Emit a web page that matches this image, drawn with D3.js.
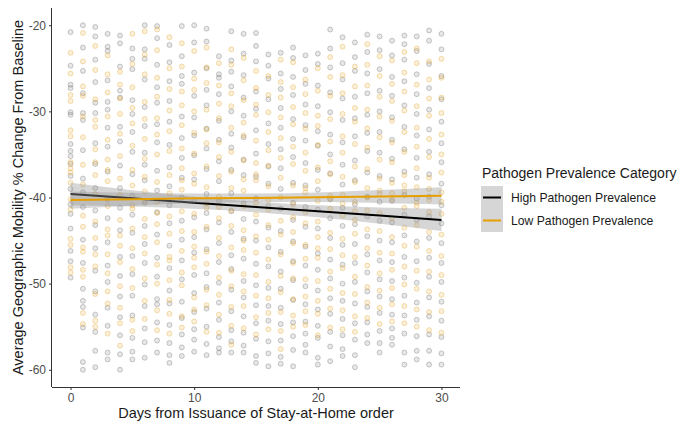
<!DOCTYPE html>
<meta charset="utf-8">
<style>
    body { margin: 0; background: #fff; font-family: Arial, "Liberation Sans", sans-serif; }
    .tick text { fill: #4d4d4d; font-size: 12px; font-family: Arial, "Liberation Sans", sans-serif; }
    .tick line { stroke: #333; }
    .domain { stroke: #333; }
</style>
<script src="https://d3js.org/d3.v7.min.js"></script>
<div id="chart"></div>
<script>

    // days on x, one list of points per day for each category
    var days = d3.range(0, 31);

    var highPoints = [
        [-20.8,-24.7,-26.9,-27.3,-30.1,-30.4,-33.8,-34.6,-35.2,-36.1,-37.5,-39.0,-40.8,-41.9,-43.6,-46.2,-47.4,-49.3],
        [-20.0,-22.6,-25.3,-27.9,-30.2,-31.0,-34.5,-37.8,-39.4,-41.1,-44.9,-47.6,-50.6,-52.0,-52.7,-55.1,-59.1,-60.0],
        [-20.2,-21.3,-24.0,-26.6,-29.0,-30.2,-33.7,-36.1,-38.9,-41.5,-43.2,-45.9,-48.5,-50.9,-53.6,-55.6,-57.8,-59.7],
        [-21.0,-22.5,-23.0,-26.4,-28.9,-29.8,-31.9,-34.1,-37.0,-40.2,-42.4,-45.2,-47.9,-49.8,-52.8,-54.9,-58.0,-58.8],
        [-21.2,-22.1,-24.8,-27.6,-28.4,-31.8,-33.5,-36.3,-38.9,-41.2,-43.8,-46.9,-49.1,-51.5,-53.9,-56.0,-58.2,-60.0],
        [-22.7,-23.9,-25.1,-28.7,-30.3,-32.4,-34.7,-37.3,-39.8,-42.0,-44.1,-46.8,-48.9,-51.4,-53.7,-56.3,-57.9,-58.8],
        [-20.0,-22.8,-23.9,-26.3,-29.5,-31.7,-34.8,-36.2,-38.0,-40.6,-43.3,-45.4,-47.6,-50.1,-52.6,-55.2,-56.8,-58.6],
        [-20.1,-21.5,-24.6,-27.2,-29.0,-31.5,-33.6,-36.9,-39.2,-41.7,-44.3,-47.0,-49.2,-51.8,-52.4,-54.5,-56.6,-58.0],
        [-22.3,-24.3,-26.5,-28.8,-31.2,-33.9,-36.5,-38.7,-40.9,-43.0,-45.6,-48.2,-50.8,-52.3,-54.8,-56.9,-58.3,-59.2],
        [-20.1,-23.6,-25.9,-26.8,-30.6,-33.1,-35.4,-37.7,-40.0,-42.7,-44.9,-47.3,-49.5,-52.1,-54.0,-55.9,-57.4,-58.4],
        [-20.0,-22.0,-25.5,-28.2,-30.7,-32.8,-35.1,-37.9,-40.3,-42.3,-44.6,-46.4,-49.0,-51.1,-53.3,-55.3,-56.5,-57.9],
        [-20.4,-21.9,-25.0,-27.5,-29.3,-32.0,-34.3,-36.7,-39.6,-41.8,-43.7,-46.0,-48.8,-50.4,-52.9,-55.0,-57.0,-58.3],
        [-23.6,-25.7,-26.1,-28.0,-31.1,-33.3,-35.8,-38.1,-40.4,-42.9,-45.3,-47.5,-49.9,-52.2,-54.2,-56.2,-57.5,-58.0],
        [-20.7,-24.1,-25.4,-27.1,-30.0,-32.6,-34.2,-36.8,-39.5,-41.6,-44.0,-46.7,-48.3,-50.7,-53.2,-55.4,-56.7,-58.0],
        [-21.0,-23.3,-25.8,-28.4,-30.5,-33.0,-35.6,-37.4,-40.7,-42.5,-44.8,-47.1,-49.7,-51.6,-53.8,-55.7,-57.2,-58.0],
        [-20.9,-22.4,-24.2,-27.7,-29.7,-32.2,-34.9,-37.6,-40.1,-42.8,-45.0,-47.7,-50.2,-52.5,-54.6,-56.4,-58.4,-59.2],
        [-23.4,-24.7,-26.2,-28.6,-31.4,-33.8,-36.4,-38.4,-41.0,-43.5,-45.8,-48.0,-50.5,-52.6,-54.3,-56.7,-58.1,-59.6],
        [-23.2,-25.6,-27.4,-29.6,-31.9,-34.4,-36.6,-39.0,-41.3,-43.9,-46.3,-48.6,-50.6,-52.8,-54.7,-56.6,-58.5,-59.3],
        [-22.6,-23.8,-26.0,-28.1,-30.9,-33.2,-35.3,-38.3,-40.6,-42.6,-45.1,-47.4,-49.6,-51.9,-54.5,-56.1,-57.7,-59.6],
        [-23.5,-25.2,-26.8,-29.2,-31.6,-33.4,-36.0,-38.6,-41.1,-43.4,-45.7,-47.9,-50.3,-52.4,-54.4,-55.8,-57.1,-58.0],
        [-23.3,-24.5,-27.0,-29.4,-32.3,-34.0,-36.8,-39.1,-41.4,-43.6,-46.5,-48.4,-50.8,-53.0,-54.9,-56.3,-58.6,-59.4],
        [-20.5,-22.7,-24.9,-27.8,-30.1,-32.7,-35.0,-37.2,-40.2,-42.4,-44.7,-47.2,-49.4,-51.7,-53.5,-55.6,-57.3,-59.0],
        [-21.4,-24.4,-26.3,-28.5,-31.0,-33.6,-36.2,-38.5,-41.2,-43.3,-45.5,-47.8,-50.0,-52.0,-54.1,-56.0,-57.6,-58.4],
        [-22.0,-23.7,-25.3,-28.3,-30.8,-32.9,-35.7,-38.0,-40.8,-43.1,-45.4,-47.6,-49.8,-52.3,-54.6,-56.5,-58.3,-59.7],
        [-21.1,-23.1,-25.6,-27.9,-30.4,-32.5,-34.6,-37.1,-39.9,-42.2,-44.5,-46.6,-48.7,-50.9,-52.7,-54.5,-55.9,-56.9],
        [-21.3,-22.9,-25.1,-27.6,-30.0,-32.4,-34.8,-37.5,-40.5,-42.7,-45.0,-47.3,-49.5,-51.5,-53.4,-55.5,-56.9,-58.0],
        [-21.8,-23.5,-26.0,-28.2,-30.7,-33.3,-35.5,-37.9,-40.4,-42.9,-45.2,-47.5,-49.7,-51.8,-53.6,-55.2,-56.3,-57.1],
        [-21.2,-22.2,-24.0,-26.5,-29.3,-31.8,-34.4,-37.0,-39.7,-42.0,-44.4,-46.9,-49.3,-51.4,-53.7,-55.8,-58.0,-59.4],
        [-21.3,-23.0,-25.7,-28.0,-30.3,-32.8,-35.4,-37.7,-40.1,-42.6,-45.1,-47.4,-49.9,-52.2,-54.2,-56.1,-57.8,-58.8],
        [-20.6,-21.8,-24.5,-27.3,-29.8,-32.1,-34.7,-37.3,-39.9,-42.2,-44.7,-47.0,-49.2,-51.6,-53.8,-55.9,-57.8,-59.4],
        [-21.0,-22.8,-25.9,-28.6,-31.2,-33.7,-35.9,-38.4,-40.9,-43.0,-45.3,-47.6,-49.8,-52.1,-54.3,-56.2,-58.1,-59.4]
    ];

    var lowPoints = [
        [-23.2,-25.6,-28.1,-28.8,-32.2,-32.9,-35.9,-37.1,-38.3,-40.2,-41.4,-44.8,-45.5,-48.1,-48.7,-36.6],
        [-20.9,-24.2,-27.1,-30.6,-33.0,-36.2,-38.5,-42.1,-43.4,-45.8,-48.4,-49.2,-53.4,-54.7,-46.3,-28.2],
        [-22.4,-25.2,-28.6,-31.8,-34.4,-35.9,-39.6,-42.8,-44.7,-46.6,-48.0,-51.2,-54.3,-55.0,-37.4,-31.0],
        [-23.5,-25.7,-27.8,-30.6,-33.3,-35.6,-38.1,-41.0,-43.7,-46.6,-48.8,-50.9,-52.3,-55.8,-36.8,-44.4],
        [-25.4,-26.9,-28.5,-30.3,-32.6,-35.2,-37.8,-39.7,-42.6,-44.4,-47.5,-50.3,-52.8,-54.6,-57.2,-45.6],
        [-21.0,-24.5,-27.2,-29.6,-31.4,-34.0,-36.8,-38.6,-41.3,-43.6,-45.9,-48.3,-50.5,-54.2,-55.5,-40.9],
        [-20.7,-23.4,-25.7,-28.9,-30.9,-33.2,-35.5,-37.6,-39.3,-42.5,-44.6,-46.5,-49.4,-52.0,-54.1,-40.4],
        [-20.5,-22.9,-26.1,-28.3,-30.8,-32.7,-35.0,-38.2,-40.5,-43.1,-45.2,-47.8,-50.0,-53.1,-55.4,-41.8],
        [-21.4,-25.0,-27.4,-29.9,-32.3,-34.6,-37.4,-39.5,-42.2,-44.2,-46.9,-49.6,-51.9,-53.5,-55.8,-47.3],
        [-22.1,-24.8,-27.7,-29.3,-31.6,-34.3,-36.6,-39.1,-41.6,-43.9,-46.2,-48.7,-50.2,-53.8,-55.1,-38.0],
        [-23.0,-26.2,-27.5,-30.0,-32.5,-34.9,-37.2,-38.4,-41.9,-44.0,-45.7,-48.1,-51.6,-53.0,-54.4,-47.0],
        [-22.6,-24.9,-26.7,-29.8,-32.1,-33.7,-36.4,-38.8,-40.7,-43.4,-46.3,-47.7,-50.7,-52.5,-55.6,-41.2],
        [-24.4,-27.0,-29.1,-30.8,-33.6,-35.3,-37.5,-39.9,-42.4,-44.7,-46.8,-49.3,-51.3,-53.6,-55.7,-41.1],
        [-22.8,-24.6,-27.9,-29.4,-31.9,-34.7,-37.0,-38.9,-41.5,-43.3,-45.8,-48.5,-50.3,-52.7,-54.9,-57.1],
        [-23.8,-26.4,-28.7,-31.3,-32.8,-35.7,-37.9,-39.2,-41.0,-43.8,-46.1,-48.9,-50.9,-52.6,-55.2,-45.0],
        [-25.3,-27.3,-29.2,-30.4,-33.4,-36.0,-38.0,-40.6,-42.0,-44.5,-46.4,-49.0,-51.4,-53.9,-55.9,-37.3],
        [-25.9,-28.1,-30.1,-32.4,-34.5,-36.3,-38.7,-41.4,-43.2,-44.9,-47.2,-49.8,-51.7,-53.4,-55.3,-40.3],
        [-24.0,-26.6,-28.4,-30.7,-33.1,-35.4,-37.7,-40.0,-42.7,-44.3,-46.6,-49.1,-51.0,-53.3,-55.5,-57.6],
        [-24.3,-27.2,-29.5,-31.5,-34.1,-36.1,-38.6,-40.8,-42.3,-45.3,-47.6,-49.4,-51.8,-53.7,-55.0,-44.0],
        [-26.3,-28.0,-30.2,-32.0,-34.8,-36.9,-39.4,-41.7,-43.0,-45.5,-47.1,-49.5,-51.5,-53.2,-54.8,-38.9],
        [-25.0,-27.6,-30.5,-31.7,-33.9,-36.5,-38.1,-40.4,-42.8,-44.6,-47.0,-49.7,-52.0,-53.5,-56.0,-45.9],
        [-23.7,-26.0,-28.2,-30.9,-33.5,-35.8,-37.3,-39.8,-41.3,-44.1,-46.0,-48.6,-50.6,-52.9,-55.1,-40.1],
        [-22.5,-25.8,-27.9,-30.3,-32.9,-34.8,-37.6,-39.7,-42.1,-44.8,-46.7,-48.2,-51.1,-53.1,-55.3,-40.7],
        [-24.8,-27.1,-29.6,-31.2,-33.8,-36.4,-38.2,-40.5,-42.6,-44.2,-46.9,-49.2,-51.2,-53.8,-55.6,-41.6],
        [-22.2,-24.6,-27.0,-29.8,-32.0,-34.2,-36.7,-38.9,-41.5,-43.7,-45.9,-47.9,-50.4,-52.2,-54.0,-40.0],
        [-23.6,-25.9,-28.3,-30.6,-33.0,-35.6,-37.8,-39.6,-41.8,-43.9,-46.4,-48.8,-50.8,-52.8,-54.7,-39.2],
        [-24.1,-26.8,-28.8,-31.1,-33.6,-35.9,-38.3,-40.2,-42.4,-44.6,-46.5,-48.4,-50.5,-52.4,-54.4,-39.5],
        [-23.1,-25.5,-27.7,-29.9,-32.4,-34.7,-37.4,-39.3,-41.2,-43.5,-45.6,-48.0,-50.1,-52.6,-54.6,-38.6],
        [-22.7,-24.4,-26.9,-29.4,-31.9,-34.1,-36.6,-38.8,-41.0,-43.2,-45.7,-48.5,-50.6,-53.0,-55.0,-40.6],
        [-24.2,-26.3,-28.5,-30.5,-33.2,-35.3,-37.7,-40.3,-41.7,-44.0,-46.2,-48.6,-50.9,-53.3,-55.4,-39.0],
        [-23.9,-26.1,-28.4,-30.2,-32.7,-35.0,-37.1,-39.4,-41.9,-44.3,-46.8,-49.0,-51.3,-53.2,-55.7,-40.5]
    ];

    // fitted lines and their confidence bands
    var fitDays = [0, 5, 10, 15, 20, 25, 30];
    var highFit   = [-39.6, -40.1, -40.6, -41.1, -41.6, -42.1, -42.6];
    var highLower = [-40.9, -41.05, -41.3, -41.7, -42.3, -43.05, -43.9];
    var highUpper = [-38.3, -39.15, -39.9, -40.5, -40.9, -41.15, -41.3];
    var lowFit   = [-40.3, -40.2, -40.1, -40.05, -39.97, -39.88, -39.8];
    var lowLower = [-41.3, -40.95, -40.65, -40.55, -40.52, -40.63, -40.8];
    var lowUpper = [-39.3, -39.45, -39.55, -39.55, -39.42, -39.13, -38.8];

    var xTicks = [0, 10, 20, 30];
    var yTicks = [-20, -30, -40, -50, -60];

    var series = [
        {name: "High Pathogen Prevalence", color: "#000000", point: "#6b6b6b", pts: highPoints, fit: highFit, lo: highLower, hi: highUpper},
        {name: "Low Pathogen Prevalence", color: "#E69F00", point: "#E6A020", pts: lowPoints, fit: lowFit, lo: lowLower, hi: lowUpper}
    ];

    var W = 681, H = 425;
    var panel = {left: 52, right: 460, top: 8, bottom: 387};

    var svg = d3.select("#chart").append("svg")
        .attr("width", W)
        .attr("height", H);

    var x = d3.scaleLinear().domain([-1.5, 31.5]).range([panel.left, panel.right]);
    var y = d3.scaleLinear().domain([-62, -18]).range([panel.bottom, panel.top]);

    // points
    series.forEach(function (s) {
        var flat = [];
        s.pts.forEach(function (list, i) {
            list.forEach(function (v) { flat.push({d: days[i], v: v}); });
        });
        svg.append("g").selectAll("circle")
            .data(flat)
            .enter().append("circle")
            .attr("cx", function (d) { return x(d.d); })
            .attr("cy", function (d) { return y(d.v); })
            .attr("r", 2.5)
            .attr("fill", s.point)
            .attr("fill-opacity", 0.16)
            .attr("stroke", s.point)
            .attr("stroke-opacity", 0.38)
            .attr("stroke-width", 0.9);
    });

    // smooth bands + lines
    series.forEach(function (s) {
        var rows = fitDays.map(function (d, i) { return {d: d, f: s.fit[i], lo: s.lo[i], hi: s.hi[i]}; });
        svg.append("path")
            .datum(rows)
            .attr("fill", "#999999")
            .attr("fill-opacity", 0.4)
            .attr("d", d3.area()
                .curve(d3.curveMonotoneX)
                .x(function (d) { return x(d.d); })
                .y0(function (d) { return y(d.lo); })
                .y1(function (d) { return y(d.hi); }));
        svg.append("path")
            .datum(rows)
            .attr("fill", "none")
            .attr("stroke", s.color)
            .attr("stroke-width", 2)
            .attr("d", d3.line()
                .x(function (d) { return x(d.d); })
                .y(function (d) { return y(d.f); }));
    });

    // axes
    svg.append("g")
        .attr("transform", "translate(0," + panel.bottom + ")")
        .call(d3.axisBottom(x).tickValues(xTicks).tickFormat(function (d) { return String(d); })
            .tickSizeOuter(0).tickSize(3).tickPadding(3))
        .select(".domain").attr("d", "M" + panel.left + ",0.5H" + panel.right);

    svg.append("g")
        .attr("transform", "translate(" + panel.left + ",0)")
        .call(d3.axisLeft(y).tickValues(yTicks).tickFormat(function (d) { return String(d); })
            .tickSizeOuter(0).tickSize(3).tickPadding(3))
        .select(".domain").attr("d", "M-0.5," + panel.top + "V" + panel.bottom);

    svg.append("text")
        .attr("x", (panel.left + panel.right) / 2)
        .attr("y", 418)
        .attr("text-anchor", "middle")
        .style("font-size", "14.5px")
        .style("fill", "#1a1a1a")
        .text("Days from Issuance of Stay-at-Home order");

    svg.append("text")
        .attr("transform", "translate(23," + ((panel.top + panel.bottom) / 2) + ") rotate(-90)")
        .attr("text-anchor", "middle")
        .style("font-size", "14.5px")
        .style("fill", "#1a1a1a")
        .text("Average Geographic Mobility % Change From Baseline");

    // legend
    var legend = svg.append("g").attr("transform", "translate(481,0)");
    legend.append("text")
        .attr("x", 1)
        .attr("y", 178)
        .style("font-size", "14px")
        .style("fill", "#1a1a1a")
        .text("Pathogen Prevalence Category");

    var keys = legend.selectAll(".key")
        .data(series)
        .enter().append("g")
        .attr("transform", function (d, i) { return "translate(0," + (186 + i * 23) + ")"; });
    keys.append("rect")
        .attr("width", 22).attr("height", 23)
        .attr("fill", "#999999").attr("fill-opacity", 0.4);
    keys.append("line")
        .attr("x1", 2).attr("x2", 20)
        .attr("y1", 11.5).attr("y2", 11.5)
        .attr("stroke", function (d) { return d.color; })
        .attr("stroke-width", 2);
    keys.append("text")
        .attr("x", 30)
        .attr("y", 11.5)
        .attr("dy", "0.35em")
        .style("font-size", "12.2px")
        .style("fill", "#1a1a1a")
        .text(function (d) { return d.name; });

</script>
